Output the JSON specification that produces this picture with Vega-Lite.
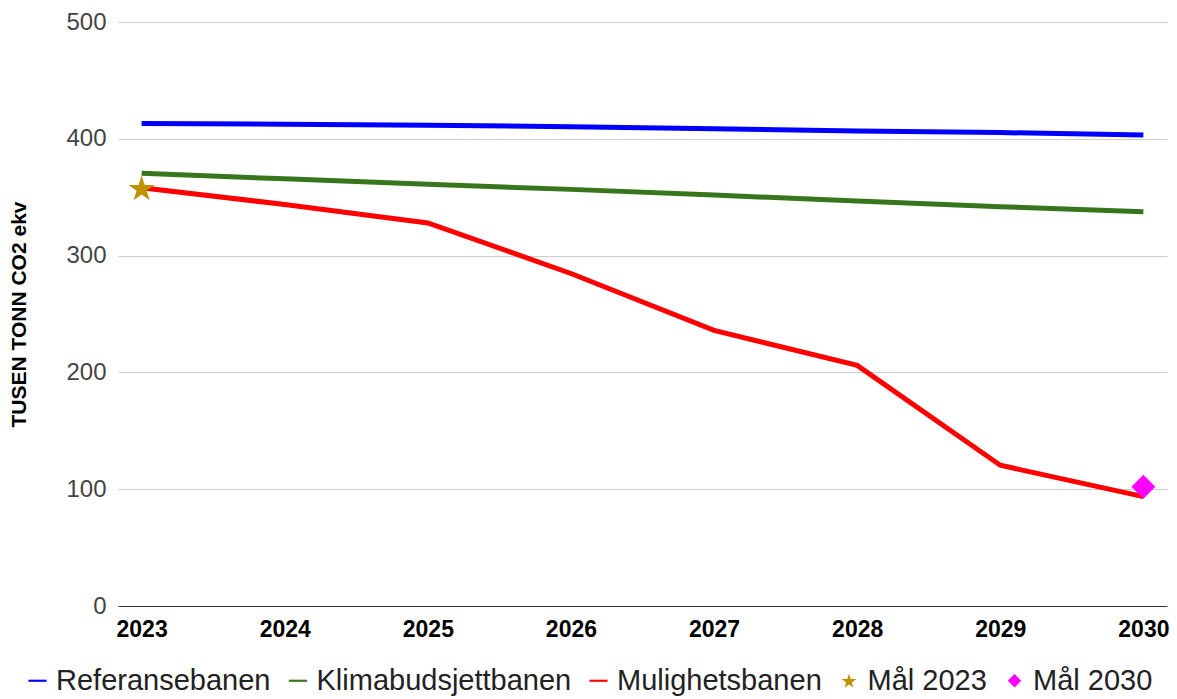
{
  "$schema": "https://vega.github.io/schema/vega-lite/v6.json",
  "width": 1049,
  "height": 584,
  "autosize": {"type": "none"},
  "padding": {"left": 118, "top": 22, "right": 10, "bottom": 93},
  "background": "white",
  "config": {"view": {"stroke": null}, "font": "Liberation Sans"},
  "data": {
    "values": [
      {"year": 2023, "series": "Referansebanen", "kind": "line", "value": 413},
      {"year": 2024, "series": "Referansebanen", "kind": "line", "value": 412.5},
      {"year": 2025, "series": "Referansebanen", "kind": "line", "value": 411.6},
      {"year": 2026, "series": "Referansebanen", "kind": "line", "value": 410.4},
      {"year": 2027, "series": "Referansebanen", "kind": "line", "value": 408.7},
      {"year": 2028, "series": "Referansebanen", "kind": "line", "value": 406.7},
      {"year": 2029, "series": "Referansebanen", "kind": "line", "value": 405.3},
      {"year": 2030, "series": "Referansebanen", "kind": "line", "value": 403.3},
      {"year": 2023, "series": "Klimabudsjettbanen", "kind": "line", "value": 370.4},
      {"year": 2024, "series": "Klimabudsjettbanen", "kind": "line", "value": 365.7},
      {"year": 2025, "series": "Klimabudsjettbanen", "kind": "line", "value": 361},
      {"year": 2026, "series": "Klimabudsjettbanen", "kind": "line", "value": 356.7},
      {"year": 2027, "series": "Klimabudsjettbanen", "kind": "line", "value": 351.8},
      {"year": 2028, "series": "Klimabudsjettbanen", "kind": "line", "value": 346.7},
      {"year": 2029, "series": "Klimabudsjettbanen", "kind": "line", "value": 341.9},
      {"year": 2030, "series": "Klimabudsjettbanen", "kind": "line", "value": 337.6},
      {"year": 2023, "series": "Mulighetsbanen", "kind": "line", "value": 358},
      {"year": 2024, "series": "Mulighetsbanen", "kind": "line", "value": 343.8},
      {"year": 2025, "series": "Mulighetsbanen", "kind": "line", "value": 328},
      {"year": 2026, "series": "Mulighetsbanen", "kind": "line", "value": 284.7},
      {"year": 2027, "series": "Mulighetsbanen", "kind": "line", "value": 236},
      {"year": 2028, "series": "Mulighetsbanen", "kind": "line", "value": 206},
      {"year": 2029, "series": "Mulighetsbanen", "kind": "line", "value": 120.5},
      {"year": 2030, "series": "Mulighetsbanen", "kind": "line", "value": 93.6},
      {"year": 2023, "series": "Mål 2023", "kind": "goal", "value": 358},
      {"year": 2030, "series": "Mål 2030", "kind": "goal", "value": 102}
    ]
  },
  "encoding": {
    "x": {
      "field": "year",
      "type": "ordinal",
      "scale": {"type": "point", "padding": 0.165},
      "axis": {
        "title": null,
        "labelAngle": 0,
        "labelFontSize": 23,
        "labelFontWeight": "bold",
        "labelColor": "#000000",
        "ticks": false,
        "domainColor": "#333333",
        "grid": false,
        "labelPadding": 12
      }
    },
    "y": {
      "field": "value",
      "type": "quantitative",
      "scale": {"domain": [0, 500]},
      "axis": {
        "title": "TUSEN TONN CO2 ekv",
        "titleFontSize": 21,
        "titleFontWeight": "bold",
        "titleColor": "#000000",
        "titlePadding": 36,
        "values": [0, 100, 200, 300, 400, 500],
        "labelFontSize": 24,
        "labelColor": "#444444",
        "labelPadding": 12,
        "domain": false,
        "ticks": false,
        "gridColor": "#cccccc"
      }
    }
  },
  "layer": [
    {
      "transform": [{"filter": {"field": "kind", "equal": "line"}}],
      "mark": {"type": "line", "strokeWidth": 5},
      "encoding": {
        "stroke": {
          "field": "series",
          "type": "nominal",
          "scale": {
            "domain": ["Referansebanen", "Klimabudsjettbanen", "Mulighetsbanen"],
            "range": ["#0000ff", "#38761d", "#ff0000"]
          },
          "legend": null
        }
      }
    },
    {
      "transform": [{"filter": {"field": "kind", "equal": "goal"}}],
      "mark": {"type": "point", "filled": true, "opacity": 1, "size": 576},
      "encoding": {
        "color": {
          "field": "series",
          "type": "nominal",
          "scale": {
            "domain": ["Referansebanen", "Klimabudsjettbanen", "Mulighetsbanen", "Mål 2023", "Mål 2030"],
            "range": ["#0000ff", "#38761d", "#ff0000", "#bf9000", "#ff00ff"]
          },
          "legend": {
            "orient": "none",
            "legendX": -95,
            "legendY": 644,
            "direction": "horizontal",
            "columns": 5,
            "title": null,
            "labelFontSize": 29,
            "labelColor": "#222222",
            "labelLimit": 500,
            "symbolSize": 180,
            "labelOffset": 4,
            "columnPadding": 12.5,
            "padding": 0
          }
        },
        "shape": {
          "field": "series",
          "type": "nominal",
          "scale": {
            "domain": ["Referansebanen", "Klimabudsjettbanen", "Mulighetsbanen", "Mål 2023", "Mål 2030"],
            "range": [
              "M-1.35,-0.16L1.35,-0.16L1.35,0.16L-1.35,0.16Z",
              "M-1.35,-0.16L1.35,-0.16L1.35,0.16L-1.35,0.16Z",
              "M-1.35,-0.16L1.35,-0.16L1.35,0.16L-1.35,0.16Z",
              "M0,-1.041L0.258,-0.246L1.094,-0.246L0.418,0.246L0.676,1.041L0,0.55L-0.676,1.041L-0.418,0.246L-1.094,-0.246L-0.258,-0.246Z",
              "diamond"
            ]
          }
        }
      }
    }
  ]
}
